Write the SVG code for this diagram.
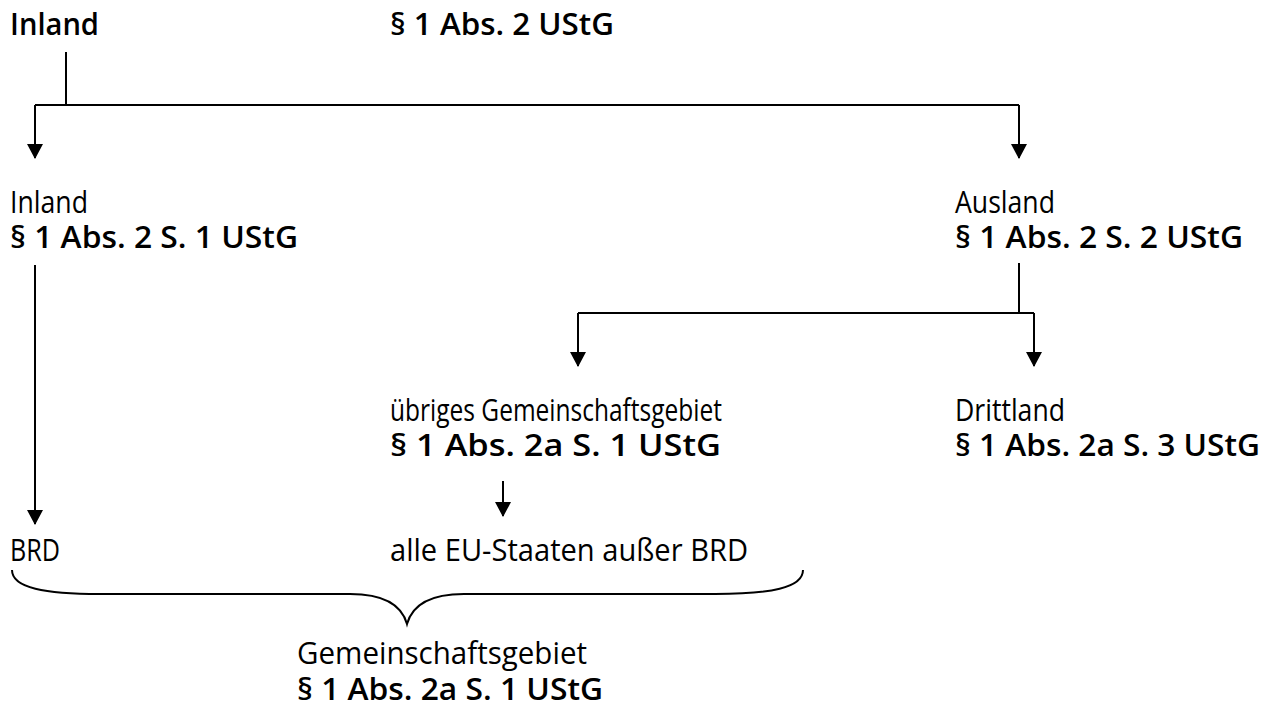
<svg xmlns="http://www.w3.org/2000/svg" width="1275" height="707" viewBox="0 0 1275 707">
<style>
text{font-family:"Open Sans","Noto Sans","Liberation Sans",sans-serif;font-size:31px;fill:#000}
.b{font-weight:600}
.c{stroke:#000;stroke-width:2;fill:none}
</style>
<defs>
<marker id="ah" markerUnits="userSpaceOnUse" markerWidth="15" markerHeight="16" refX="14" refY="8" orient="auto" viewBox="0 0 15 16">
<path d="M0,0 L15,8 L0,16 Z" fill="#000"/>
</marker>
</defs>
<rect width="1275" height="707" fill="#fff"/>
<g id="connectors">
<path class="c" d="M66,52 V105"/>
<path class="c" d="M35,105 H1019"/>
<path class="c" d="M35,105 V158" marker-end="url(#ah)"/>
<path class="c" d="M1019,105 V158" marker-end="url(#ah)"/>
<path class="c" d="M35,265 V524" marker-end="url(#ah)"/>
<path class="c" d="M1019,263 V313"/>
<path class="c" d="M578,313 H1034"/>
<path class="c" d="M578,313 V366" marker-end="url(#ah)"/>
<path class="c" d="M1034,313 V366" marker-end="url(#ah)"/>
<path class="c" d="M503,481 V516" marker-end="url(#ah)"/>
<path id="brace" class="c" d="M12,570 C12,588 45,594 100,594 H350 C385,594 402,606 407,624 C412,606 429,594 464,594 H715 C770,594 803,588 803,570"/>
</g>
<g id="n-title">
<text class="b" x="10" y="35" textLength="89" lengthAdjust="spacingAndGlyphs">Inland</text>
<text class="b" x="390" y="35" textLength="224" lengthAdjust="spacingAndGlyphs">§ 1 Abs. 2 UStG</text>
</g>
<g id="n-inland">
<text x="10" y="213" textLength="78" lengthAdjust="spacingAndGlyphs">Inland</text>
<text class="b" x="10" y="248" textLength="288" lengthAdjust="spacingAndGlyphs">§ 1 Abs. 2 S. 1 UStG</text>
</g>
<g id="n-ausland">
<text x="955" y="213" textLength="100" lengthAdjust="spacingAndGlyphs">Ausland</text>
<text class="b" x="955" y="248" textLength="288" lengthAdjust="spacingAndGlyphs">§ 1 Abs. 2 S. 2 UStG</text>
</g>
<g id="n-uebriges">
<text x="390" y="421" textLength="332" lengthAdjust="spacingAndGlyphs">übriges Gemeinschaftsgebiet</text>
<text class="b" x="390" y="456" textLength="331" lengthAdjust="spacingAndGlyphs">§ 1 Abs. 2a S. 1 UStG</text>
</g>
<g id="n-drittland">
<text x="955" y="421" textLength="110" lengthAdjust="spacingAndGlyphs">Drittland</text>
<text class="b" x="955" y="456" textLength="305" lengthAdjust="spacingAndGlyphs">§ 1 Abs. 2a S. 3 UStG</text>
</g>
<g id="n-brd">
<text x="10" y="561" textLength="50" lengthAdjust="spacingAndGlyphs">BRD</text>
</g>
<g id="n-eu">
<text x="390" y="561" textLength="358" lengthAdjust="spacingAndGlyphs">alle EU-Staaten außer BRD</text>
</g>
<g id="n-gemeinschaft">
<text x="297" y="664" textLength="290" lengthAdjust="spacingAndGlyphs">Gemeinschaftsgebiet</text>
<text class="b" x="297" y="700" textLength="306" lengthAdjust="spacingAndGlyphs">§ 1 Abs. 2a S. 1 UStG</text>
</g>
</svg>
